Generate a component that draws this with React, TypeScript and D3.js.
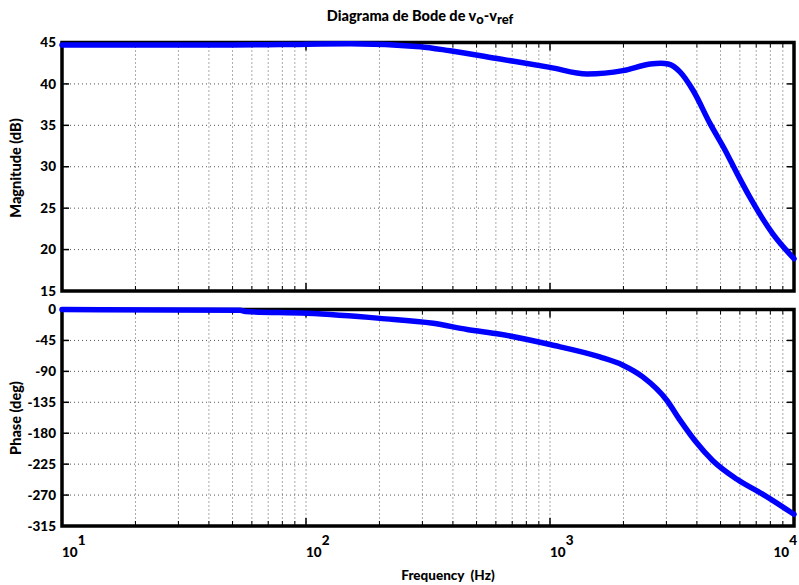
import React from "react";
import * as d3 from "d3";

const freqMag = [10, 20, 50, 78.5, 152, 294, 390, 625, 1000, 1420, 1990, 2570, 2850, 3050, 3410, 3860, 4530, 5220, 5840, 6600, 8190, 10000];
const magDb = [44.7, 44.7, 44.7, 44.75, 44.85, 44.5, 44.0, 43.0, 42.0, 41.2, 41.6, 42.4, 42.5, 42.4, 41.45, 39.2, 35.2, 32.0, 29.2, 26.3, 21.9, 18.9];

const freqPh = [10, 14.4, 53.8, 56.5, 101, 201, 332, 457, 625, 1000, 1600, 1990, 2400, 3010, 3410, 3930, 4650, 5840, 7460, 10000];
const phaseDeg = [0, -0.5, -1, -3, -5.6, -12.9, -20, -29, -36, -51, -69, -81, -98, -132, -161, -191, -220, -247, -269, -298];

const magTicks = [15, 20, 25, 30, 35, 40, 45];
const phaseTicks = [0, -45, -90, -135, -180, -225, -270, -315];
const decadeTicks = [10, 100, 1000, 10000];
const decadeExp = ["1", "2", "3", "4"];

const W = 799;
const H = 585;
const FONT = "Lato, 'Open Sans', sans-serif";

const minorFreqs: number[] = [];
for (const d of [10, 100, 1000]) for (let k = 2; k <= 9; k++) minorFreqs.push(d * k);

export default function App() {
  const x = d3.scaleLog().domain([10, 10000]).range([62, 794]);
  const yMag = d3.scaleLinear().domain([15, 45]).range([291, 42.5]);
  const yPh = d3.scaleLinear().domain([-315, 0]).range([526, 309.5]);

  const magLine = d3
    .line<number>()
    .x((_, i) => x(freqMag[i]))
    .y((d) => yMag(d))
    .curve(d3.curveMonotoneX);
  const phLine = d3
    .line<number>()
    .x((_, i) => x(freqPh[i]))
    .y((d) => yPh(d))
    .curve(d3.curveMonotoneX);

  const panel = (
    y: d3.ScaleLinear<number, number>,
    ticks: number[],
    key: string
  ) => {
    const [y0, y1] = [y.range()[1], y.range()[0]];
    const x0 = x.range()[0];
    const x1 = x.range()[1];
    return (
      <g key={key}>
        {[...minorFreqs, ...decadeTicks.slice(1, 3)].map((f, i) => (
          <line key={"vg" + i} x1={x(f)} x2={x(f)} y1={y0} y2={y1} stroke="#555" strokeWidth={1} strokeDasharray="1,3" />
        ))}
        {ticks.map((t, i) => (
          <line key={"hg" + i} x1={x0} x2={x1} y1={y(t)} y2={y(t)} stroke="#555" strokeWidth={1} strokeDasharray="1,3" />
        ))}
        {minorFreqs.map((f, i) => (
          <g key={"mt" + i}>
            <line x1={x(f)} x2={x(f)} y1={y1} y2={y1 - 5} stroke="#000" strokeWidth={1} />
            <line x1={x(f)} x2={x(f)} y1={y0} y2={y0 + 5} stroke="#000" strokeWidth={1} />
          </g>
        ))}
        {decadeTicks.map((f, i) => (
          <g key={"Mt" + i}>
            <line x1={x(f)} x2={x(f)} y1={y1} y2={y1 - 8} stroke="#000" strokeWidth={1.5} />
            <line x1={x(f)} x2={x(f)} y1={y0} y2={y0 + 8} stroke="#000" strokeWidth={1.5} />
          </g>
        ))}
        {ticks.map((t, i) => (
          <g key={"yt" + i}>
            <line x1={x0} x2={x0 + 7} y1={y(t)} y2={y(t)} stroke="#000" strokeWidth={1.5} />
            <line x1={x1} x2={x1 - 7} y1={y(t)} y2={y(t)} stroke="#000" strokeWidth={1.5} />
            <text x={56} y={y(t)} dy="0.35em" textAnchor="end" fontFamily={FONT} fontWeight={900} fontSize={13.5} fill="#000">
              {t}
            </text>
          </g>
        ))}
        <rect x={x0} y={y0} width={x1 - x0} height={y1 - y0} fill="none" stroke="#000" strokeWidth={3.5} />
      </g>
    );
  };

  return (
    <svg width={W} height={H} style={{ position: "absolute", left: 0, top: 0, background: "#fff" }}>
      <rect x={0} y={0} width={W} height={H} fill="#fff" />
      <text x={420} y={21} textAnchor="middle" fontFamily={FONT} fontWeight={900} fontSize={14.5} fill="#000">
        Diagrama de Bode de v
        <tspan dy={3} fontSize={13}>o</tspan>
        <tspan dy={-3}>-v</tspan>
        <tspan dy={3} fontSize={13}>ref</tspan>
      </text>
      {panel(yMag, magTicks, "mag")}
      {panel(yPh, phaseTicks, "ph")}
      <path d={magLine(magDb) || ""} fill="none" stroke="#0000ff" strokeWidth={5.5} strokeLinecap="round" strokeLinejoin="round" />
      <path d={phLine(phaseDeg) || ""} fill="none" stroke="#0000ff" strokeWidth={5.5} strokeLinecap="round" strokeLinejoin="round" />
      {decadeTicks.map((f, i) => {
        const last = i === decadeTicks.length - 1;
        return (
          <text
            key={"xl" + i}
            x={last ? 797 : x(f)}
            y={557}
            textAnchor={last ? "end" : "start"}
            fontFamily={FONT}
            fontWeight={900}
            fontSize={13.5}
            fill="#000"
          >
            10
            <tspan dy={-12}>{decadeExp[i]}</tspan>
          </text>
        );
      })}
      <text x={448} y={580} textAnchor="middle" fontFamily={FONT} fontWeight={900} fontSize={13.5} fill="#000" style={{ whiteSpace: "pre" }}>
        {"Frequency  (Hz)"}
      </text>
      <text transform="translate(21,168) rotate(-90)" textAnchor="middle" fontFamily={FONT} fontWeight={900} fontSize={14.5} fill="#000">
        Magnitude (dB)
      </text>
      <text transform="translate(21,418) rotate(-90)" textAnchor="middle" fontFamily={FONT} fontWeight={900} fontSize={14.5} fill="#000">
        Phase (deg)
      </text>
    </svg>
  );
}
